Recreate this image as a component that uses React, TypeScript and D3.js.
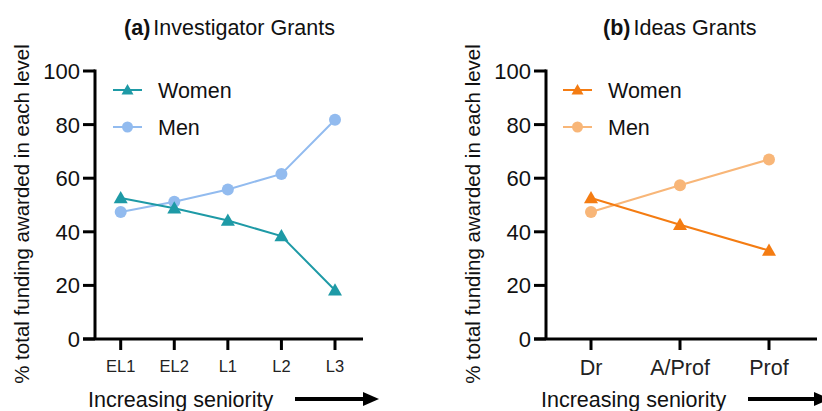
import React from "react";
import * as d3 from "d3";

const invCategories = ["EL1", "EL2", "L1", "L2", "L3"];
const invWomen = [52.6, 48.8, 44.2, 38.4, 18.2];
const invMen = [47.4, 51.2, 55.8, 61.6, 81.8];

const ideasCategories = ["Dr", "A/Prof", "Prof"];
const ideasWomen = [52.6, 42.6, 33.0];
const ideasMen = [47.4, 57.4, 67.0];

const yTicks = [0, 20, 40, 60, 80, 100];
const seriesNames = ["Women", "Men"];

const FONT = "Arial, 'Liberation Sans', Helvetica, sans-serif";

type PanelProps = {
  letter: string;
  title: string;
  titleX: number;
  cats: string[];
  women: number[];
  men: number[];
  axisX: number;
  xRange: [number, number];
  xAxisEnd: number;
  tickFont: number;
  tickBaseline: number;
  womenColor: string;
  menColor: string;
  legendX: number;
  xLabelX: number;
  arrowStart: number;
  arrowEnd: number;
};

const Triangle = ({ x, y, color, s = 7 }: { x: number; y: number; color: string; s?: number }) => (
  <path d={`M${x},${y - s} L${x + s},${y + s * 0.75} L${x - s},${y + s * 0.75} Z`} fill={color} />
);

function Panel(p: PanelProps) {
  const y = d3.scaleLinear().domain([0, 100]).range([339, 71]);
  const x = d3.scalePoint<string>().domain(p.cats).range(p.xRange);
  const line = d3
    .line<number>()
    .x((_, i) => x(p.cats[i]) as number)
    .y((d) => y(d));
  const y0 = y(0);
  return (
    <g>
      <text x={p.titleX} y={35} fontSize={21.5} fontFamily={FONT} fill="#111">
        <tspan fontWeight="bold">({p.letter})</tspan>
        <tspan dx={3}>{p.title}</tspan>
      </text>
      {/* y axis */}
      <line x1={p.axisX} x2={p.axisX} y1={y(100) - 1.5} y2={y0} stroke="#000" strokeWidth={3} />
      {yTicks.map((t) => (
        <g key={t}>
          <line x1={p.axisX - 12} x2={p.axisX} y1={y(t)} y2={y(t)} stroke="#000" strokeWidth={3} />
          <text x={p.axisX - 15} y={y(t)} dy="0.36em" textAnchor="end" fontSize={22} fontFamily={FONT} fill="#111">
            {t}
          </text>
        </g>
      ))}
      {/* x axis */}
      <line x1={p.axisX - 12} x2={p.xAxisEnd} y1={y0} y2={y0} stroke="#000" strokeWidth={3} />
      {p.cats.map((c) => (
        <g key={c}>
          <line x1={x(c)} x2={x(c)} y1={y0} y2={y0 + 11} stroke="#000" strokeWidth={3} />
          <text x={x(c)} y={p.tickBaseline} textAnchor="middle" fontSize={p.tickFont} fontFamily={FONT} fill="#222">
            {c}
          </text>
        </g>
      ))}
      {/* series */}
      <path d={line(p.men) || ""} fill="none" stroke={p.menColor} strokeWidth={2} />
      {p.men.map((v, i) => (
        <circle key={i} cx={x(p.cats[i])} cy={y(v)} r={6} fill={p.menColor} />
      ))}
      <path d={line(p.women) || ""} fill="none" stroke={p.womenColor} strokeWidth={2} />
      {p.women.map((v, i) => (
        <Triangle key={i} x={x(p.cats[i]) as number} y={y(v)} color={p.womenColor} />
      ))}
      {/* legend */}
      {seriesNames.map((n, i) => {
        const ly = 90 + i * 37;
        const col = i === 0 ? p.womenColor : p.menColor;
        return (
          <g key={n}>
            <line x1={p.legendX} x2={p.legendX + 29} y1={ly} y2={ly} stroke={col} strokeWidth={2} />
            {i === 0 ? (
              <Triangle x={p.legendX + 14.5} y={ly} color={col} s={6} />
            ) : (
              <circle cx={p.legendX + 14.5} cy={ly} r={5.5} fill={col} />
            )}
            <text x={p.legendX + 45} y={ly} dy="0.36em" fontSize={21.5} fontFamily={FONT} fill="#111">
              {n}
            </text>
          </g>
        );
      })}
      {/* x label and arrow */}
      <text x={p.xLabelX} y={407} fontSize={21.5} fontFamily={FONT} fill="#111">
        Increasing seniority
      </text>
      <line x1={p.arrowStart} x2={p.arrowEnd - 14} y1={399} y2={399} stroke="#000" strokeWidth={4} />
      <path d={`M${p.arrowEnd - 16},${392} L${p.arrowEnd},${399} L${p.arrowEnd - 16},${406} Z`} fill="#000" />
    </g>
  );
}

export default function App() {
  return (
    <svg width={822} height={411} style={{ position: "absolute", left: 0, top: 0, background: "#fff" }}>
      <rect width={822} height={411} fill="#fff" />
      {[22, 473].map((cx, i) => (
        <text
          key={i}
          transform={`translate(${cx},${214}) rotate(-90)`}
          textAnchor="middle"
          dy="0.36em"
          fontSize={20.5}
          fontFamily={FONT}
          fill="#111"
        >
          % total funding awarded in each level
        </text>
      ))}
      <Panel
        letter="a"
        title="Investigator Grants"
        titleX={124}
        cats={invCategories}
        women={invWomen}
        men={invMen}
        axisX={95}
        xRange={[120.7, 335]}
        xAxisEnd={363}
        tickFont={16.5}
        tickBaseline={372}
        womenColor="#1e9aa6"
        menColor="#92bbef"
        legendX={113}
        xLabelX={88}
        arrowStart={295}
        arrowEnd={379}
      />
      <Panel
        letter="b"
        title="Ideas Grants"
        titleX={603}
        cats={ideasCategories}
        women={ideasWomen}
        men={ideasMen}
        axisX={546}
        xRange={[591, 769]}
        xAxisEnd={817}
        tickFont={21.5}
        tickBaseline={375}
        womenColor="#f47c12"
        menColor="#f8b678"
        legendX={563}
        xLabelX={541}
        arrowStart={748}
        arrowEnd={830}
      />
    </svg>
  );
}
